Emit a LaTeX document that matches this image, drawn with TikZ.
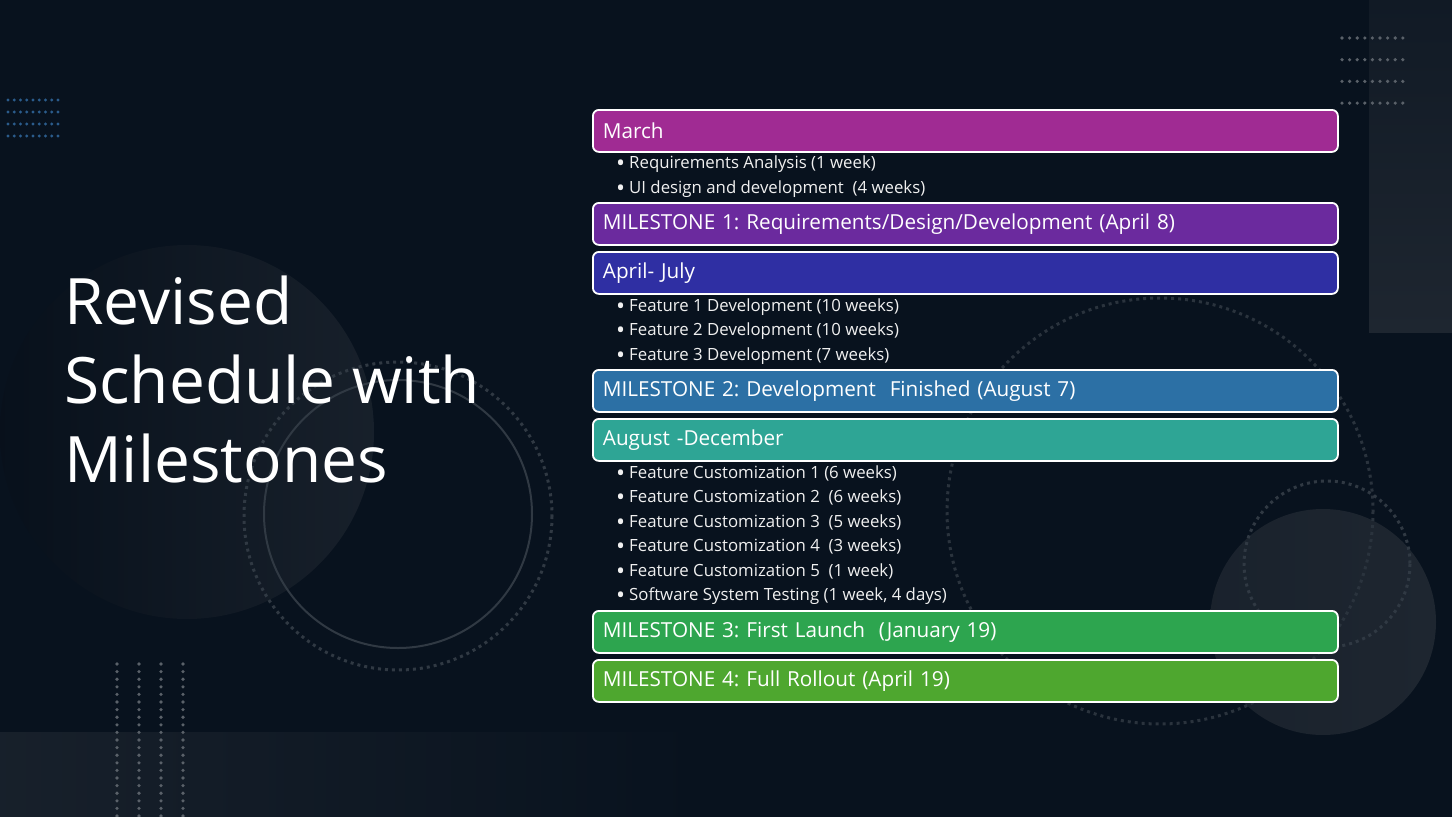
\documentclass[tikz,border=0pt]{standalone}
\usepackage{fontspec}
\setmainfont{Open Sans}
\usetikzlibrary{positioning}
\definecolor{bgnavy}{HTML}{08121E}
\definecolor{discgray}{HTML}{1E2630}
\definecolor{ringgray}{HTML}{303943}
\definecolor{dotblue}{HTML}{2B5C8C}
\definecolor{dotgray}{HTML}{5A6169}
\definecolor{cmarch}{HTML}{A02B93}
\definecolor{cms1}{HTML}{6B2A9E}
\definecolor{caprjul}{HTML}{2F2FA3}
\definecolor{cms2}{HTML}{2C70A5}
\definecolor{caugdec}{HTML}{2EA595}
\definecolor{cms3}{HTML}{2DA54F}
\definecolor{cms4}{HTML}{4EA72F}
\frenchspacing
\begin{document}
\begin{tikzpicture}[x=1pt,y=-1pt,phase/.style={draw=white,line width=1.8pt,rounded corners=6pt,anchor=north west,minimum width=745pt,minimum height=42pt,text width=725pt,align=left,inner xsep=10pt,inner ysep=0pt,text=white,font=\fontsize{20.7}{24}\selectfont},item/.style={anchor=base west,inner sep=0pt,text=white!94!black,font=\fontsize{16.8}{19}\selectfont},ring/.style={draw=ringgray,line width=3pt,dash pattern=on 3pt off 4pt}]
\useasboundingbox (0,0) rectangle (1452,817);
\fill[bgnavy] (0,0) rectangle (1452,817);
% background pieces
\shade[left color=discgray!70!bgnavy,right color=bgnavy] (0,732) rectangle (700,817);
\shade[top color=bgnavy!60!discgray,bottom color=discgray] (1369,0) rectangle (1452,332);
\shade[left color=discgray!110,right color=discgray!70!bgnavy] (187,432) circle (187);
\shade[left color=discgray!80!bgnavy,right color=discgray] (1323,622) circle (113);
\draw[ringgray,line width=2pt] (398,514) circle (134);
\draw[ring] (398,516) circle (154);
\draw[ring,draw=ringgray!85!bgnavy] (1160,511) circle (213);
\draw[ring] (1327,564) circle (83);
\foreach \i in {0,...,8}{\foreach \j in {0,...,3}{\fill[dotblue] (8+\i*6.25,100+\j*12) circle (1.7);\fill[dotgray] (1342+\i*7.6,38+\j*21.7) circle (1.8);}}
\foreach \c in {0,...,3}{\foreach \r in {0,...,20}{\fill[dotgray] (117+\c*22,664+\r*7.6) circle (1.8);}}
% title
\node[anchor=base west,align=left,inner sep=0pt,text=white,font=\fontsize{64}{79}\selectfont](title) at (64,482){Revised\\Schedule with\\Milestones};
% phases and milestones
\node[phase,fill=cmarch](march) at (592,109){March};
\node[phase,fill=cms1](mstone1) at (592,202){MILESTONE 1: Requirements/Design/Development (April 8)};
\node[phase,fill=caprjul](aprjul) at (592,251){April- July};
\node[phase,fill=cms2](mstone2) at (592,369){MILESTONE 2: Development\ \ Finished (August 7)};
\node[phase,fill=caugdec](augdec) at (592,418){August -December};
\node[phase,fill=cms3](mstone3) at (592,610){MILESTONE 3: First Launch\ \ (January 19)};
\node[phase,fill=cms4](mstone4) at (592,659){MILESTONE 4: Full Rollout (April 19)};
% task lists
\foreach \y/\t in {168/Requirements Analysis (1 week),193/UI design and development\ \ (4 weeks),311/Feature 1 Development (10 weeks),335/Feature 2 Development (10 weeks),360/Feature 3 Development (7 weeks),478/Feature Customization 1 (6 weeks),502/Feature Customization 2\ \ (6 weeks),527/Feature Customization 3\ \ (5 weeks),551/Feature Customization 4\ \ (3 weeks),576/Feature Customization 5\ \ (1 week),600/{Software System Testing (1 week, 4 days)}}{\node[item] at (616,\y){\makebox[13pt][l]{\raisebox{-3.5pt}{\fontsize{24}{24}\selectfont\textbullet}}\t};}
\end{tikzpicture}
\end{document}
